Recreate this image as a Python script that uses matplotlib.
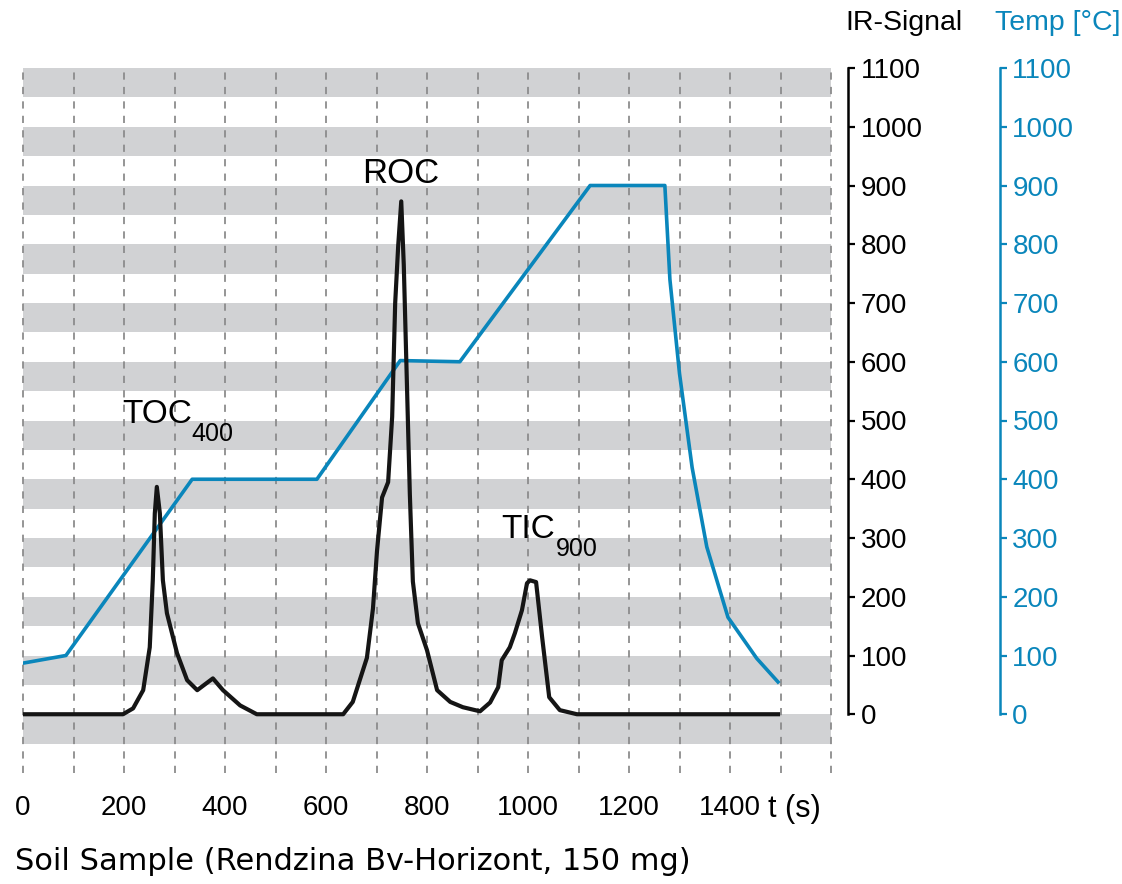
import matplotlib.pyplot as plt

# time axis (s) and signals
t_temp = [0, 85, 335, 582, 747, 865, 1123, 1271, 1281, 1300, 1325, 1354, 1396, 1453, 1495]
temp = [87, 100, 400, 400, 602, 600, 900, 900, 740, 580, 420, 285, 165, 95, 55]

t_ir = [0, 198, 218, 238, 251, 257, 261, 265, 271, 277, 285, 305, 325, 345, 376, 396, 430, 463,
        634, 653, 681, 693, 701, 711, 723, 731, 737, 743, 749, 754, 760, 766, 772, 782, 800,
        820, 846, 871, 905, 925, 941, 948, 964, 974, 988, 998, 1004, 1016, 1028, 1042, 1063,
        1097, 1495]
ir = [0, 0, 10, 41, 114, 228, 342, 387, 342, 228, 172, 104, 58, 41, 61, 41, 15, 0,
      0, 21, 96, 180, 278, 369, 395, 506, 700, 798, 873, 765, 570, 375, 226, 155, 109,
      41, 21, 12, 5, 20, 46, 92, 114, 138, 177, 223, 228, 225, 131, 29, 7,
      0, 0]

x_ticks = [0, 200, 400, 600, 800, 1000, 1200, 1400]
y_ticks = list(range(0, 1101, 100))

blue = '#0a86bb'
band = '#d1d2d4'
font = ['Liberation Sans', 'DejaVu Sans']

fig = plt.figure(figsize=(11.22, 8.84), dpi=100)
ax = fig.add_axes([23 / 1122, 1 - 773 / 884, 808 / 1122, 705 / 884])
ax.set_xlim(0, 1600)
ax.set_ylim(-100, 1100)

# grey stripes and dashed verticals
for lo in range(-50, 1100, 100):
    ax.axhspan(lo, lo + 50, color=band, lw=0, zorder=0)
for xv in range(0, 1601, 100):
    ax.axvline(xv, color='#8c8c8c', lw=1.3, ls=(0, (4, 4)), zorder=1, clip_on=False)

ax.plot(t_temp, temp, color=blue, lw=2.6, zorder=3, solid_joinstyle='round')
ax.plot(t_ir, ir, color='#151515', lw=3.0, zorder=4, solid_joinstyle='round')

for s in ax.spines.values():
    s.set_visible(False)
ax.set_yticks([])
ax.set_xticks(x_ticks)
ax.tick_params(axis='x', length=0, pad=16)
for lab in ax.get_xticklabels():
    lab.set_family(font)
    lab.set_fontsize(20)
ax.annotate('t (s)', xy=(1475, 0), xycoords=('data', 'axes fraction'), xytext=(0, -15),
            textcoords='offset points', ha='left', va='top', fontsize=22, family=font)

# IR-Signal axis
ax2 = ax.twinx()
ax2.set_ylim(-100, 1100)
for k in ['top', 'left', 'bottom']:
    ax2.spines[k].set_visible(False)
ax2.spines['right'].set_position(('axes', 1.021))
ax2.spines['right'].set_bounds(0, 1100)
ax2.spines['right'].set_linewidth(1.8)
ax2.set_yticks(y_ticks)
ax2.tick_params(axis='y', direction='out', length=5, width=1.6, pad=4, labelsize=20)
for lab in ax2.get_yticklabels():
    lab.set_family(font)

# Temp axis
ax3 = ax.twinx()
ax3.set_ylim(-100, 1100)
for k in ['top', 'left', 'bottom']:
    ax3.spines[k].set_visible(False)
ax3.spines['right'].set_position(('axes', 1.209))
ax3.spines['right'].set_bounds(0, 1100)
ax3.spines['right'].set_linewidth(1.8)
ax3.spines['right'].set_color(blue)
ax3.set_yticks(y_ticks)
ax3.tick_params(axis='y', direction='out', length=5, width=1.6, pad=4, labelsize=20,
                colors=blue)
for lab in ax3.get_yticklabels():
    lab.set_family(font)

fig.text(845 / 1122, 1 - 23 / 884, 'IR-Signal', fontsize=20.5, family=font, va='center', ha='left')
fig.text(995 / 1122, 1 - 23 / 884, 'Temp [°C]', fontsize=20.5, family=font, va='center',
         ha='left', color=blue)

# peak labels
ax.text(747, 905, 'ROC', fontsize=25, family=font, ha='center', va='baseline')
toc = ax.text(196, 495, 'TOC', fontsize=24, family=font, ha='left', va='baseline')
ax.annotate('400', xy=(1, 0), xycoords=toc, xytext=(0, 6), textcoords='offset points',
            ha='left', va='top', fontsize=18, family=font)
tic = ax.text(948, 300, 'TIC', fontsize=24, family=font, ha='left', va='baseline')
ax.annotate('900', xy=(1, 0), xycoords=tic, xytext=(0, 5.5), textcoords='offset points',
            ha='left', va='top', fontsize=18, family=font)

fig.text(15 / 1122, 1 - 862 / 884, 'Soil Sample (Rendzina Bv-Horizont, 150 mg)', fontsize=22,
         family='DejaVu Sans', va='center', ha='left')

fig.savefig('out.png', dpi=100)
